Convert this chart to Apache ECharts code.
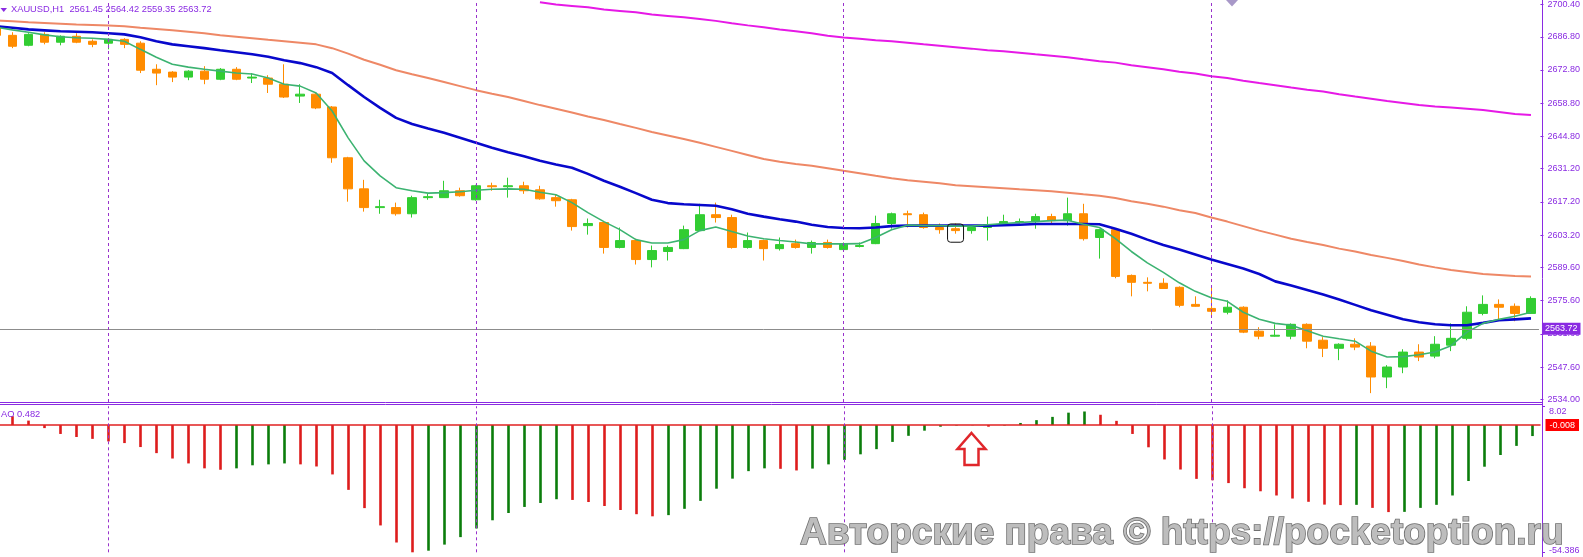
<!DOCTYPE html>
<html><head><meta charset="utf-8">
<script src="https://cdn.jsdelivr.net/npm/echarts@6/dist/echarts.min.js"></script>
<style>html,body{margin:0;padding:0;background:#fff;overflow:hidden;width:1583px;height:557px;position:relative}
#c{position:absolute;left:-12px;top:0;width:1595px;height:557px}</style>
</head><body><div id="c"></div>
<script>
// ---- data: H1 candles [open, close, low, high] ----
const candles = [
[2691.2,2687.4,2687.0,2691.6],[2687.4,2682.8,2682.0,2688.7],[2683.2,2687.8,2682.8,2688.3],[2687.8,2684.5,2683.6,2688.7],
[2684.5,2687.0,2683.2,2687.4],[2687.0,2684.5,2684.1,2688.3],[2684.9,2683.6,2682.4,2685.7],[2684.1,2685.7,2681.5,2686.2],
[2685.7,2683.6,2682.0,2686.2],[2684.1,2672.7,2671.5,2684.9],[2673.1,2671.5,2666.4,2675.2],[2671.9,2669.8,2667.7,2672.3],
[2669.8,2672.3,2668.5,2672.7],[2672.3,2668.9,2666.8,2674.4],[2668.9,2673.1,2668.5,2673.6],[2673.1,2668.9,2668.5,2674.0],
[2669.4,2669.8,2667.3,2671.5],[2669.4,2666.8,2663.1,2670.6],[2666.8,2661.4,2661.0,2675.2],[2661.8,2662.6,2658.9,2666.8],
[2662.6,2656.8,2656.3,2663.1],[2657.2,2635.8,2633.7,2657.6],[2635.8,2622.7,2617.3,2636.2],[2622.7,2614.8,2613.1,2626.5],
[2614.8,2615.2,2612.2,2618.1],[2614.8,2612.2,2611.4,2616.9],[2612.2,2619.0,2610.6,2619.8],[2619.0,2619.4,2618.1,2620.6],
[2619.0,2621.9,2619.0,2626.1],[2621.9,2619.8,2619.4,2623.2],[2618.1,2624.0,2617.7,2624.4],[2624.0,2623.6,2621.9,2625.3],
[2623.6,2624.0,2619.0,2627.4],[2624.0,2621.9,2620.6,2625.7],[2622.3,2618.5,2618.1,2624.0],[2619.0,2617.7,2615.2,2620.2],
[2618.1,2606.8,2605.1,2618.5],[2607.2,2608.1,2603.4,2610.2],[2608.5,2598.0,2595.4,2608.9],[2598.0,2600.9,2597.6,2606.4],
[2600.9,2592.9,2590.8,2601.7],[2592.9,2596.7,2589.6,2598.8],[2596.3,2598.0,2592.5,2598.8],[2597.5,2605.5,2597.3,2607.2],
[2605.1,2611.8,2604.9,2616.4],[2611.8,2610.6,2608.5,2616.9],[2610.6,2598.0,2597.5,2611.8],[2598.0,2600.9,2597.5,2604.3],
[2600.9,2597.5,2592.5,2601.3],[2597.5,2599.2,2596.7,2602.2],[2599.6,2598.0,2597.5,2601.3],[2598.0,2600.1,2595.4,2600.9],
[2600.1,2598.0,2597.5,2601.3],[2597.1,2599.6,2596.7,2600.1],[2598.4,2598.8,2598.0,2600.1],[2599.6,2608.1,2599.4,2611.4],
[2608.1,2612.2,2605.9,2612.7],[2612.2,2611.8,2606.4,2613.5],[2611.8,2606.4,2605.9,2612.7],[2606.4,2605.5,2603.8,2608.1],
[2605.9,2605.1,2603.8,2608.1],[2605.1,2606.4,2603.8,2607.2],[2606.4,2607.6,2600.9,2611.0],[2607.6,2608.9,2607.2,2611.8],
[2608.5,2608.9,2608.1,2610.2],[2608.9,2611.0,2605.9,2612.2],[2611.0,2609.3,2608.1,2612.2],[2609.3,2612.2,2607.2,2619.0],
[2612.2,2601.7,2600.9,2616.4],[2602.2,2605.5,2593.3,2605.7],[2605.5,2585.8,2585.0,2605.9],[2586.2,2583.3,2577.4,2586.6],
[2583.3,2582.9,2579.5,2585.4],[2582.9,2580.7,2580.5,2585.0],[2581.2,2573.6,2572.8,2581.6],[2574.0,2573.2,2573.0,2577.4],
[2572.3,2571.1,2569.0,2581.2],[2570.7,2572.8,2569.8,2575.7],[2572.8,2562.3,2561.9,2573.2],[2562.7,2560.6,2559.3,2564.4],
[2560.6,2561.0,2560.4,2565.6],[2560.6,2565.6,2559.3,2566.0],[2565.6,2558.5,2555.5,2566.0],[2558.9,2555.5,2551.8,2560.2],
[2555.5,2557.2,2550.5,2557.6],[2557.2,2556.0,2554.7,2559.7],[2556.4,2543.4,2536.6,2558.1],[2543.4,2547.6,2538.7,2548.4],
[2547.6,2553.9,2545.0,2555.1],[2553.9,2551.8,2550.1,2557.2],[2552.2,2557.2,2551.3,2560.6],[2556.8,2559.7,2554.3,2566.0],
[2559.7,2570.7,2558.9,2573.2],[2570.2,2574.0,2569.4,2577.8],[2574.0,2572.8,2567.3,2576.1],[2573.2,2570.2,2566.9,2574.4],
[2570.2,2576.5,2570.0,2577.4]
];
// moving averages
const maFast = [2690.8,2689.7,2688.7,2687.6,2686.8,2686.4,2686.2,2685.7,2684.9,2681.5,2678.2,2675.2,2674.0,2673.1,2672.3,2671.5,
2671.1,2669.4,2666.8,2666.0,2663.1,2655.5,2644.2,2634.5,2628.2,2623.2,2621.9,2620.9,2621.1,2621.5,2622.1,2622.5,2622.7,2622.5,
2621.3,2620.2,2616.9,2612.7,2608.9,2605.5,2601.3,2599.9,2599.9,2601.3,2605.1,2606.6,2604.7,2602.8,2601.7,2600.9,2600.3,2599.5,
2599.5,2599.5,2599.6,2602.2,2605.5,2607.4,2607.2,2607.2,2607.0,2607.0,2607.6,2608.1,2608.5,2608.9,2609.3,2609.5,2607.8,2606.4,
2601.7,2596.3,2591.5,2587.5,2583.1,2579.5,2576.8,2575.3,2570.7,2567.7,2566.0,2565.2,2562.9,2560.6,2559.5,2558.5,2554.3,2551.8,
2552.0,2552.8,2553.9,2556.6,2562.3,2566.0,2567.7,2569.0,2570.7];
const maMid = [2691.2,2690.6,2689.9,2689.5,2689.1,2688.9,2688.7,2688.3,2687.8,2686.6,2684.9,2683.6,2682.8,2682.0,2681.1,2680.3,
2679.4,2678.4,2676.9,2675.7,2674.0,2671.5,2666.4,2661.4,2656.8,2652.6,2650.0,2648.1,2646.3,2644.2,2642.1,2640.0,2638.1,2636.4,
2634.5,2633.0,2631.6,2629.0,2626.1,2623.6,2620.9,2618.1,2616.7,2616.2,2615.9,2615.6,2614.1,2612.2,2611.0,2609.9,2608.9,2607.6,
2606.6,2606.2,2606.1,2606.4,2607.0,2607.2,2607.2,2607.2,2607.2,2607.2,2607.2,2607.4,2607.6,2607.9,2607.9,2607.9,2607.9,2607.8,
2605.9,2603.8,2601.3,2599.0,2597.1,2595.0,2592.9,2591.0,2589.1,2586.8,2583.7,2582.0,2580.1,2578.2,2576.1,2573.8,2571.5,2569.6,
2567.7,2566.5,2565.6,2565.2,2565.2,2566.2,2567.3,2567.7,2568.1];
const maSlow = [2693.7,2693.3,2692.9,2692.6,2692.3,2692.0,2691.8,2691.6,2691.2,2690.6,2690.1,2689.5,2688.9,2688.3,2687.4,2686.8,
2686.2,2685.5,2684.9,2684.3,2683.6,2682.0,2679.7,2677.1,2675.0,2672.7,2671.0,2669.4,2667.7,2666.0,2664.3,2662.8,2661.4,2659.7,
2658.0,2656.5,2654.9,2653.2,2651.7,2650.0,2648.4,2646.7,2645.2,2643.7,2642.1,2640.4,2638.7,2637.0,2635.3,2634.1,2633.2,2632.4,
2631.4,2630.3,2629.3,2628.2,2627.2,2626.3,2625.7,2625.1,2624.2,2623.8,2623.4,2623.0,2622.5,2622.1,2621.7,2621.1,2620.4,2619.8,
2618.8,2617.5,2616.4,2615.2,2613.7,2612.5,2610.6,2608.9,2607.0,2605.1,2603.4,2601.7,2600.3,2599.0,2597.5,2596.3,2594.8,2593.6,
2592.3,2590.8,2589.6,2588.5,2587.7,2586.8,2586.4,2586.0,2585.8];
const maLong = [null,null,null,null,null,null,null,null,null,null,null,null,null,null,null,null,null,null,null,null,null,null,
null,null,null,null,null,null,null,null,null,null,null,null,
2701.3,2700.4,2699.8,2699.2,2698.3,2697.7,2697.1,2696.2,2695.6,2695.0,2694.3,2693.5,2692.5,2691.6,2690.8,2689.9,2689.1,2688.3,
2687.2,2686.5,2686.0,2685.3,2684.9,2684.3,2683.6,2683.0,2682.4,2681.8,2681.1,2680.7,2680.1,2679.4,2678.8,2678.2,2677.3,2676.5,
2675.9,2674.8,2674.0,2673.1,2672.1,2671.3,2670.2,2669.4,2668.3,2667.3,2666.4,2665.4,2664.5,2663.7,2662.6,2661.6,2660.7,2659.7,
2658.9,2658.0,2657.4,2657.0,2656.5,2655.9,2655.1,2654.2,2653.8];
// Awesome Oscillator
const ao = [4.5,3.8,1.9,-1.3,-3.8,-5.1,-5.9,-7.0,-7.7,-9.4,-12.0,-14.3,-16.4,-18.5,-19.1,-18.5,-17.2,-16.8,-16.4,-16.8,-17.7,
-21.1,-27.7,-35.5,-42.9,-50.2,-54.386,-53.7,-51.1,-47.9,-44.2,-40.7,-37.6,-35.0,-33.3,-31.7,-32.0,-32.9,-34.6,-36.3,-38.1,-39.0,
-38.5,-35.8,-32.4,-27.2,-22.9,-19.7,-18.5,-18.7,-19.4,-18.6,-16.8,-14.9,-12.5,-10.3,-7.2,-4.6,-2.4,-0.7,-0.2,-0.1,-0.7,-0.2,
0.9,2.1,3.5,5.3,5.8,4.4,1.8,-3.8,-9.5,-14.7,-19.0,-23.0,-23.6,-24.8,-27.0,-28.3,-30.1,-31.4,-32.8,-34.0,-34.2,-34.1,-35.4,-37.2,
-37.1,-35.4,-34.1,-30.1,-23.9,-17.8,-12.8,-8.9,-4.7];
const priceTicks = [2700.40,2686.80,2672.80,2658.80,2644.80,2631.20,2617.20,2603.20,2589.60,2575.60,2561.60,2547.60,2534.00];
const aoTicks = [8.02,-54.386];
const separatorBars = [7,30,53,76];
const header = 'XAUUSD,H1  2561.45 2564.42 2559.35 2563.72';
const aoTitle = 'AO 0.482';
const bidPrice = 2563.72;
const aoTag = '-0.008';
const watermark = 'Авторские права © https://pocketoption.ru';
const markedBar = 60, markedTop = 2607.9, markedBottom = 2600.2;

const categories = candles.map((_, i) => String(i));
const PURPLE = '#8A2BE2';
const FONT = '"Liberation Sans", Arial, sans-serif';
const SX = 12; // the chart canvas starts 12px left of the page

const aoData = ao.map((v, i) => ({
  value: v,
  itemStyle: { color: (i > 0 && v > ao[i - 1]) ? '#0b7d0b' : '#dd1c1c' }
}));

const chart = echarts.init(document.getElementById('c'), null, { renderer: 'canvas' });

chart.setOption({
  animation: false,
  backgroundColor: '#ffffff',
  grid: [
    { left: 0.5, top: 0, width: 1552, height: 402 },
    { left: 0.5, top: 406.3, width: 1552, height: 146 }
  ],
  xAxis: [
    { type: 'category', data: categories, gridIndex: 0, boundaryGap: true, show: false },
    { type: 'category', data: categories, gridIndex: 1, boundaryGap: true, show: false }
  ],
  yAxis: [
    { type: 'value', gridIndex: 0, position: 'right', offset: 1.5, min: 2532.86, max: 2701.7,
      splitLine: { show: false }, axisLine: { show: false },
      axisTick: { show: true, length: 3, customValues: priceTicks, lineStyle: { color: PURPLE } },
      axisLabel: { customValues: priceTicks, formatter: v => v.toFixed(2), color: PURPLE, fontSize: 9, fontFamily: FONT, margin: 7 } },
    { type: 'value', gridIndex: 1, position: 'right', offset: 1.5, min: -54.386, max: 8.02,
      splitLine: { show: false }, axisLine: { show: false },
      axisTick: { show: true, length: 3, customValues: aoTicks, lineStyle: { color: PURPLE } },
      axisLabel: { customValues: aoTicks, color: PURPLE, fontSize: 9, fontFamily: FONT, margin: 7,
        formatter: v => v > 0 ? '{t|' + v.toFixed(2) + '}' : '{b|' + v.toFixed(3) + '}',
        rich: { t: { padding: [11, 0, 0, 0], color: PURPLE, fontSize: 9, fontFamily: FONT },
                b: { padding: [0, 0, 4, 0], color: PURPLE, fontSize: 9, fontFamily: FONT } } } }
  ],
  series: [
    { type: 'candlestick', xAxisIndex: 0, yAxisIndex: 0, data: candles, barWidth: 9,
      itemStyle: { color: '#32CD32', color0: '#FF8C00', borderColor: '#32CD32', borderColor0: '#FF8C00', borderWidth: 1 },
      markLine: {
        silent: true, symbol: 'none', animation: false,
        data: [
          { yAxis: bidPrice, lineStyle: { color: '#8c8c8c', type: 'solid', width: 1 },
            label: { show: true, position: 'end', distance: 3, formatter: bidPrice.toFixed(2), color: '#fff',
              backgroundColor: PURPLE, padding: [2, 3, 1, 3], fontSize: 9, fontFamily: FONT } },
          ...separatorBars.map(b => ({ xAxis: b, lineStyle: { color: '#9932CC', type: [3, 3], width: 1 }, label: { show: false } }))
        ]
      } },
    { type: 'line', xAxisIndex: 0, yAxisIndex: 0, data: maLong, showSymbol: false,
      lineStyle: { color: '#E619E6', width: 2 }, z: 3 },
    { type: 'line', xAxisIndex: 0, yAxisIndex: 0, data: maSlow, showSymbol: false,
      lineStyle: { color: '#EE8866', width: 2 }, z: 3 },
    { type: 'line', xAxisIndex: 0, yAxisIndex: 0, data: maMid, showSymbol: false,
      lineStyle: { color: '#0808CC', width: 2.6 }, z: 3 },
    { type: 'line', xAxisIndex: 0, yAxisIndex: 0, data: maFast, showSymbol: false,
      lineStyle: { color: '#3CB371', width: 1.6 }, z: 3 },
    { type: 'bar', xAxisIndex: 1, yAxisIndex: 1, data: aoData, barWidth: 2.6,
      markLine: {
        silent: true, animation: false, symbol: 'none',
        data: [
          { yAxis: 0, symbol: ['none', 'emptyRect'], symbolSize: 5,
            lineStyle: { color: '#e02020', type: 'solid', width: 1.5 },
            label: { show: true, position: 'end', distance: 5, formatter: aoTag, color: '#fff',
              backgroundColor: '#ff0000', padding: [2, 4, 1, 4], fontSize: 9, fontFamily: FONT } },
          ...separatorBars.map(b => ({ xAxis: b, lineStyle: { color: '#9932CC', type: [3, 3], width: 1 }, label: { show: false } }))
        ]
      } }
  ]
});

const p1 = chart.convertToPixel({ xAxisIndex: 0, yAxisIndex: 0 }, [markedBar, markedTop]);
const p2 = chart.convertToPixel({ xAxisIndex: 0, yAxisIndex: 0 }, [markedBar, markedBottom]);

chart.setOption({
  graphic: [
    { type: 'line', shape: { x1: SX + 1542.5, y1: 0, x2: SX + 1542.5, y2: 557 }, style: { stroke: PURPLE, lineWidth: 1 }, z: 50 },
    { type: 'line', shape: { x1: SX, y1: 402.5, x2: SX + 1542.5, y2: 402.5 }, style: { stroke: PURPLE, lineWidth: 1 }, z: 50 },
    { type: 'line', shape: { x1: SX, y1: 404.5, x2: SX + 1542.5, y2: 404.5 }, style: { stroke: PURPLE, lineWidth: 1 }, z: 50 },
    { type: 'polygon', shape: { points: [[SX + 0.5, 8], [SX + 7, 8], [SX + 3.75, 12]] }, style: { fill: PURPLE }, z: 50 },
    { type: 'text', x: SX + 11, y: 9, style: { text: header, fill: PURPLE, font: '9.3px ' + FONT, align: 'left', verticalAlign: 'middle' }, z: 50 },
    { type: 'text', x: SX + 1, y: 414, style: { text: aoTitle, fill: PURPLE, font: '9.3px ' + FONT, align: 'left', verticalAlign: 'middle' }, z: 50 },
    { type: 'polygon', shape: { points: [[SX + 1226, 0], [SX + 1238, 0], [SX + 1232, 6.5]] }, style: { fill: '#a898c8' }, z: 50 },
    { type: 'rect', shape: { x: p1[0] - 8, y: p1[1], width: 16, height: p2[1] - p1[1], r: 3 },
      style: { fill: 'none', stroke: '#111', lineWidth: 1 }, z: 50 },
    { type: 'polygon', shape: { points: [[SX + 971.5, 433], [SX + 985.5, 449], [SX + 978.5, 449], [SX + 978.5, 465], [SX + 964.5, 465], [SX + 964.5, 449], [SX + 957.5, 449]] },
      style: { fill: '#ffffff', stroke: '#e0262b', lineWidth: 2.5 }, z: 50 },
    { type: 'text', x: SX + 800, y: 534, style: { text: watermark, font: 'bold 37px ' + FONT, fill: '#bdbdbd', stroke: '#707070', lineWidth: 1.6, align: 'left', verticalAlign: 'middle' }, z: 60 }
  ]
});
</script>
</body></html>
